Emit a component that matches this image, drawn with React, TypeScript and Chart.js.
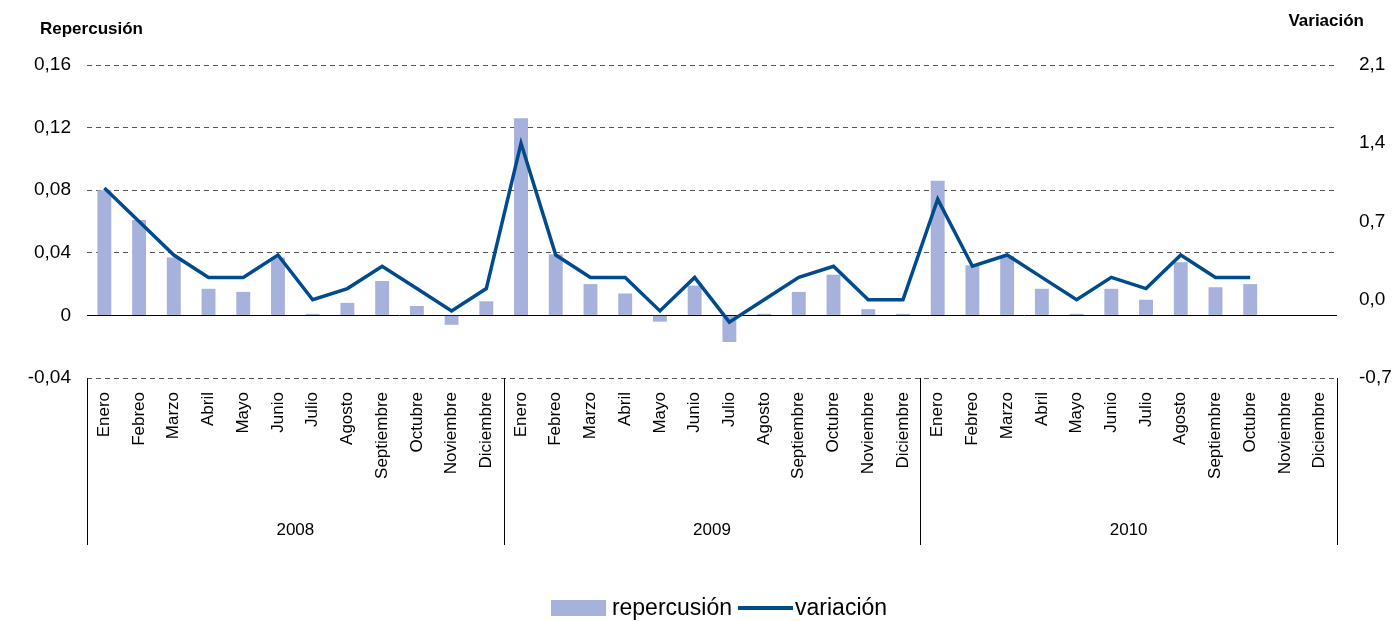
import { useEffect, useRef } from 'react';
import { Chart, registerables } from 'chart.js';

Chart.register(...registerables);

const months = ['Enero', 'Febreo', 'Marzo', 'Abril', 'Mayo', 'Junio', 'Julio', 'Agosto', 'Septiembre', 'Octubre', 'Noviembre', 'Diciembre'];
const years = ['2008', '2009', '2010'];
const labels = years.flatMap(() => months);

const repercusion = [
  0.080, 0.061, 0.037, 0.017, 0.015, 0.037, 0.001, 0.008, 0.022, 0.006, -0.006, 0.009,
  0.126, 0.039, 0.020, 0.014, -0.004, 0.019, -0.017, 0.001, 0.015, 0.026, 0.004, 0.001,
  0.086, 0.032, 0.038, 0.017, 0.001, 0.017, 0.010, 0.034, 0.018, 0.020, null, null,
];
const variacion = [
  1.0, 0.7, 0.4, 0.2, 0.2, 0.4, 0.0, 0.1, 0.3, 0.1, -0.1, 0.1,
  1.4, 0.4, 0.2, 0.2, -0.1, 0.2, -0.2, 0.0, 0.2, 0.3, 0.0, 0.0,
  0.9, 0.3, 0.4, 0.2, 0.0, 0.2, 0.1, 0.4, 0.2, 0.2, null, null,
];

const FONT = 'Arial, "Liberation Sans", sans-serif';

export default function App() {
  const ref = useRef<HTMLCanvasElement>(null);

  useEffect(() => {
    if (!ref.current) return;
    const extras = {
      id: 'extras',
      afterDraw(chart: any) {
        const ctx = chart.ctx;
        const { left, right, bottom } = chart.chartArea;
        ctx.save();
        ctx.strokeStyle = '#000';
        ctx.lineWidth = 1;
        ctx.fillStyle = '#000';
        const step = (right - left) / years.length;
        for (let i = 0; i <= years.length; i++) {
          const x = Math.round(left + step * i) + 0.5;
          ctx.beginPath();
          ctx.moveTo(x, bottom);
          ctx.lineTo(x, 545);
          ctx.stroke();
        }
        ctx.font = `17px ${FONT}`;
        ctx.textAlign = 'center';
        ctx.textBaseline = 'middle';
        years.forEach((y, i) => ctx.fillText(y, left + step * (i + 0.5), 530));
        ctx.font = `bold 17px ${FONT}`;
        ctx.textAlign = 'left';
        ctx.fillText('Repercusión', 40, 29);
        ctx.textAlign = 'right';
        ctx.fillText('Variación', 1364, 21);
        ctx.restore();
      },
    };
    const chart = new Chart(ref.current, {
      type: 'bar',
      data: {
        labels,
        datasets: [
          {
            type: 'line',
            label: 'variación',
            data: variacion,
            borderColor: '#004b8d',
            borderWidth: 3.5,
            pointRadius: 0,
            yAxisID: 'y1',
            order: 0,
          },
          {
            type: 'bar',
            label: 'repercusión',
            data: repercusion,
            backgroundColor: '#a6b1dc',
            categoryPercentage: 1,
            barPercentage: 0.4,
            yAxisID: 'y',
            order: 1,
          },
        ],
      },
      plugins: [extras],
      options: {
        animation: false,
        responsive: false,
        layout: { padding: { top: 65, right: 0, left: 0, bottom: 0 } },
        plugins: { legend: { display: false }, tooltip: { enabled: false } },
        scales: {
          x: {
            grid: { display: false },
            border: { display: false },
            ticks: { maxRotation: 90, minRotation: 90, color: '#000', font: { family: FONT, size: 17 }, padding: 6 },
            afterFit: (s: any) => { s.height = 243; },
          },
          y: {
            position: 'left',
            min: -0.04,
            max: 0.16,
            ticks: {
              stepSize: 0.04,
              color: '#000',
              font: { family: FONT, size: 19 },
              padding: 16,
              callback: (v: any) => (Math.abs(v) < 1e-9 ? '0' : Number(v).toFixed(2).replace('.', ',')),
            },
            grid: {
              color: (c: any) => (Math.abs(c.tick.value) < 1e-9 ? '#000' : '#555'),
              drawTicks: false,
            },
            border: { display: false, dash: (c: any) => (Math.abs(c.tick.value) < 1e-9 ? [] : [5, 4]) } as any,
            afterFit: (s: any) => { s.width = 87; },
          },
          y1: {
            position: 'right',
            min: -0.7,
            max: 2.1,
            ticks: {
              stepSize: 0.7,
              color: '#000',
              font: { family: FONT, size: 19 },
              padding: 14,
              callback: (v: any) => Number(v).toFixed(1).replace('.', ','),
            },
            grid: { display: false },
            border: { display: false },
            afterFit: (s: any) => { s.width = 61; },
          },
        },
      },
    });
    return () => chart.destroy();
  }, []);

  return (
    <div style={{ position: 'absolute', left: 0, top: 0, width: 1398, height: 621, background: '#fff', fontFamily: FONT }}>
      <canvas ref={ref} width={1398} height={621} />
      <div style={{ position: 'absolute', top: 594, left: 20, width: 1398, display: 'flex', justifyContent: 'center', alignItems: 'center', fontSize: 23 }}>
        <span style={{ display: 'inline-block', width: 55, height: 16, background: '#a6b1dc', marginRight: 6 }} />
        <span style={{ marginRight: 6 }}>repercusión</span>
        <span style={{ display: 'inline-block', width: 55, height: 4, background: '#004b8d', marginRight: 2 }} />
        <span>variación</span>
      </div>
    </div>
  );
}
